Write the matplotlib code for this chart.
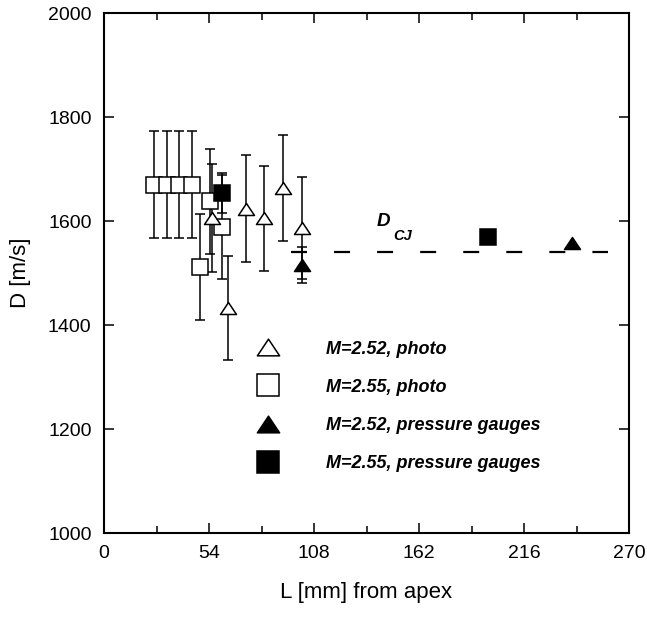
import matplotlib
matplotlib.use("Agg")
import matplotlib.pyplot as plt
from matplotlib.path import Path
from matplotlib.lines import Line2D

# === Data ===
photo_252_x = [55.5, 63.9, 72.9, 82.4, 92.2, 102.0]
photo_252_y = [1605, 1432, 1624, 1605, 1663, 1586]
photo_252_err = [104, 100, 103, 101, 102, 98]

photo_255_x = [25.7, 32.6, 38.6, 45.1, 49.4, 54.5, 60.5]
photo_255_y = [1670, 1670, 1670, 1670, 1512, 1638, 1589]
photo_255_err = [103, 103, 103, 103, 102, 101, 100]

# nan = no error bar measured
gauge_252_x = [102.0, 240.8]
gauge_252_y = [1515, 1557]
gauge_252_err = [35, float('nan')]

gauge_255_x = [60.5, 197.6]
gauge_255_y = [1654, 1569]
gauge_255_err = [38, float('nan')]

dcj_value = 1540
dcj_span = [96, 259]

x_ticks = [0, 54, 108, 162, 216, 270]
x_minor = [27, 81, 135, 189, 243]
y_ticks = [1000, 1200, 1400, 1600, 1800, 2000]

labels = ["M=2.52, photo", "M=2.55, photo",
          "M=2.52, pressure gauges", "M=2.55, pressure gauges"]

# === Style ===
plt.rcParams['font.family'] = ['Liberation Sans', 'DejaVu Sans']
plt.rcParams['lines.scale_dashes'] = False

tri = Path([(-1, -0.75), (1, -0.75), (0, 0.75), (0, 0)], closed=True)
ms = 11.5
lw = 1.1

fig = plt.figure(figsize=(6.47, 6.17), dpi=100)
ax = fig.add_axes([104 / 647, 1 - 533 / 617, 525 / 647, 520 / 617])

common = dict(ls='none', ecolor='black', elinewidth=lw, capsize=3.6,
              capthick=lw, mew=lw, mec='black', ms=ms)

ax.errorbar(photo_255_x, photo_255_y, yerr=photo_255_err, marker='s',
            mfc='white', **common)
ax.errorbar(photo_252_x, photo_252_y, yerr=photo_252_err, marker=tri,
            mfc='white', **common)
ax.errorbar(gauge_252_x, gauge_252_y, yerr=gauge_252_err, marker=tri,
            mfc='black', **common)
ax.errorbar(gauge_255_x, gauge_255_y, yerr=gauge_255_err, marker='s',
            mfc='black', **common)

ax.plot(dcj_span, [dcj_value, dcj_value], color='black', lw=1.6,
        dashes=(11.5, 19.5), zorder=1)
ax.text(143.5, 1600, "D", fontsize=13.5, fontweight='bold', style='italic',
        ha='center', va='center')
ax.text(153.5, 1572, "CJ", fontsize=10.5, fontweight='bold', style='italic',
        ha='center', va='center')

# === Axes ===
ax.set_xlim(0, 270)
ax.set_ylim(1000, 2000)
ax.set_xticks(x_ticks)
ax.set_xticks(x_minor, minor=True)
ax.set_yticks(y_ticks)
ax.tick_params(which='both', direction='in', top=True, right=True,
               width=1.1, labelsize=14, pad=9)
ax.tick_params(which='major', length=7)
ax.tick_params(which='minor', length=5)
for s in ax.spines.values():
    s.set_linewidth(1.5)

ax.set_xlabel("L [mm] from apex", fontsize=16, labelpad=14)
ax.set_ylabel("D [m/s]", fontsize=16, labelpad=12)

# === Legend ===
lm = 16
handles = [
    Line2D([], [], ls='none', marker=tri, ms=lm, mfc='white', mec='black', mew=lw),
    Line2D([], [], ls='none', marker='s', ms=lm, mfc='white', mec='black', mew=lw),
    Line2D([], [], ls='none', marker=tri, ms=lm, mfc='black', mec='black', mew=lw),
    Line2D([], [], ls='none', marker='s', ms=lm, mfc='black', mec='black', mew=lw),
]
ax.legend(handles, labels, loc='upper left', bbox_to_anchor=(0.278, 0.370),
          frameon=False, borderpad=0, borderaxespad=0, handlelength=2.0,
          handletextpad=2.2, labelspacing=1.17,
          prop=dict(family='Liberation Sans', size=13, weight='bold',
                    style='italic'))

fig.savefig("out.png", dpi=100)
